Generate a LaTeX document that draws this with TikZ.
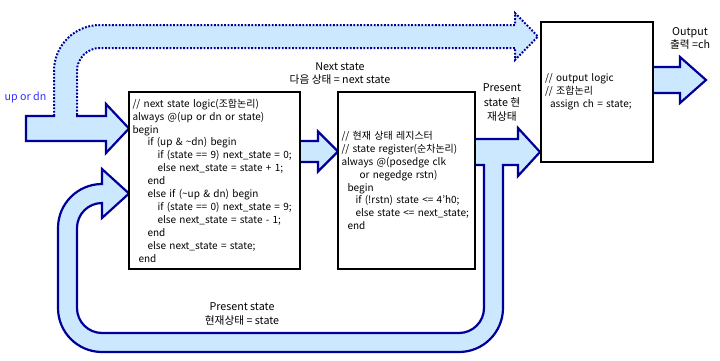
\documentclass[tikz,border=0pt]{standalone}
\usepackage{fontspec}
\setmainfont{Noto Sans CJK KR}
\usepackage{tikz}
\usetikzlibrary{positioning}
\definecolor{Navy}{HTML}{000099}
\definecolor{SkySoft}{HTML}{CCE8FF}
\definecolor{InBlue}{HTML}{3333FF}
\tikzset{
  codeBox/.style={draw=black,line width=2.6pt,fill=white,align=left,inner xsep=3.5pt,inner ysep=0pt,
    font=\fontsize{10}{12.9}\selectfont},
  fatArrow/.style={draw=Navy,line width=2.2pt,line join=miter},
  fatFill/.style={fill=SkySoft},
  fatDotted/.style={draw=Navy,line width=2pt,dash pattern=on 1.8pt off 1.6pt},
  note/.style={align=center,font=\fontsize{10.7}{13}\selectfont}
}
\begin{document}
\begin{tikzpicture}[x=1pt,y=1pt]
  \useasboundingbox (0,0) rectangle (720,360);

  % next state branch (dotted) to output logic
  \fill[fatFill] (54,244) -- (54,289) arc[start angle=180,end angle=90,radius=46] -- (515,335) -- (515,347)
    -- (538,323.5) -- (515,300) -- (515,312) -- (100,312) arc[start angle=90,end angle=180,radius=23] -- (77,244) -- cycle;
  \draw[fatDotted] (54,244) -- (54,289) arc[start angle=180,end angle=90,radius=46] -- (515,335) -- (515,347)
    -- (538,323.5) -- (515,300) -- (515,312) -- (100,312) arc[start angle=90,end angle=180,radius=23] -- (77,244);

  % input up/dn
  \fill[fatFill] (26,244) -- (106,244) -- (106,256) -- (129,231.5) -- (106,207) -- (106,219) -- (26,219) -- cycle;
  \draw[fatArrow] (55,244) -- (26,244) -- (26,219) -- (106,219) -- (106,207) -- (129,231.5) -- (106,256) -- (106,244) -- (76,244);

  % next state -> register
  \fill[fatFill] (300,219) -- (318,219) -- (318,228.5) -- (338,208.5) -- (318,188.5) -- (318,198) -- (300,198) -- cycle;
  \draw[fatArrow] (300,219) -- (318,219) -- (318,228.5) -- (338,208.5) -- (318,188.5) -- (318,198) -- (300,198);

  % present state -> output logic, and feedback loop
  \fill[fatFill] (475,221) -- (518,221) -- (518,232) -- (540,208) -- (518,184) -- (518,195) -- (503,195) -- (503,52)
    arc[start angle=0,end angle=-90,radius=44] -- (102,8) arc[start angle=270,end angle=180,radius=44] -- (58,132)
    arc[start angle=180,end angle=90,radius=44] -- (102,191) -- (129,166.5) -- (102,142) -- (102,157)
    arc[start angle=90,end angle=180,radius=25] -- (77,52) arc[start angle=180,end angle=270,radius=25] -- (459,27)
    arc[start angle=270,end angle=360,radius=25] -- (484,195) -- (475,195) -- cycle;
  \draw[fatArrow] (475,221) -- (518,221) -- (518,232) -- (540,208) -- (518,184) -- (518,195) -- (503,195) -- (503,52)
    arc[start angle=0,end angle=-90,radius=44] -- (102,8) arc[start angle=270,end angle=180,radius=44] -- (58,132)
    arc[start angle=180,end angle=90,radius=44] -- (102,191) -- (129,166.5) -- (102,142) -- (102,157)
    arc[start angle=90,end angle=180,radius=25] -- (77,52) arc[start angle=180,end angle=270,radius=25] -- (459,27)
    arc[start angle=270,end angle=360,radius=25] -- (484,195) -- (475,195);

  % output
  \fill[fatFill] (653,293) -- (680,293) -- (680,303) -- (706,280) -- (680,257) -- (680,267) -- (653,267) -- cycle;
  \draw[fatArrow] (653,293) -- (680,293) -- (680,303) -- (706,280) -- (680,257) -- (680,267) -- (653,267);

  \node[codeBox,minimum width=171,minimum height=177,text width=164] (nsl) at (214.5,179.5)
    {// next state logic(조합논리)\\
     always @(up or dn or state)\\
     begin\\
     \hspace*{15pt}if (up \& \textasciitilde dn) begin\\
     \hspace*{25pt}if (state == 9) next\_state = 0;\\
     \hspace*{25pt}else next\_state = state + 1;\\
     \hspace*{15pt}end\\
     \hspace*{15pt}else if (\textasciitilde up \& dn) begin\\
     \hspace*{25pt}if (state == 0) next\_state = 9;\\
     \hspace*{25pt}else next\_state = state - 1;\\
     \hspace*{15pt}end\\
     \hspace*{15pt}else next\_state = state;\\
     \hspace*{6pt}end};
  \node[codeBox,minimum width=137,minimum height=177,text width=130] (streg) at (406.5,179.5)
    {// 현재 상태 레지스터\\
     // state register(순차논리)\\
     always @(posedge clk\\
     \hspace*{18pt}or negedge rstn)\\
     \hspace*{6pt}begin\\
     \hspace*{14pt}if (!rstn) state <= 4'h0;\\
     \hspace*{14pt}else state <= next\_state;\\
     \hspace*{6pt}end};
  \node[codeBox,minimum width=112,minimum height=140,text width=104] (outlogic) at (597,268)
    {// output logic\\
     // 조합논리\\
     \hspace*{5pt}assign ch = state;};

  \node[note,text=InBlue] (lblIn) at (25.5,263) {up or dn};
  \node[note] (lblNext) at (340,286.5) {Next state\\다음 상태 = next state};
  \node[note,font=\fontsize{10.7}{14.5}\selectfont] (lblPres) at (502,257.5) {Present\\state 현\\재상태};
  \node[note] (lblOut) at (690,321.5) {Output\\출력 =ch};
  \node[note,font=\fontsize{10.7}{14}\selectfont] (lblFb) at (242,46) {Present state\\현재상태 = state};
\end{tikzpicture}
\end{document}
